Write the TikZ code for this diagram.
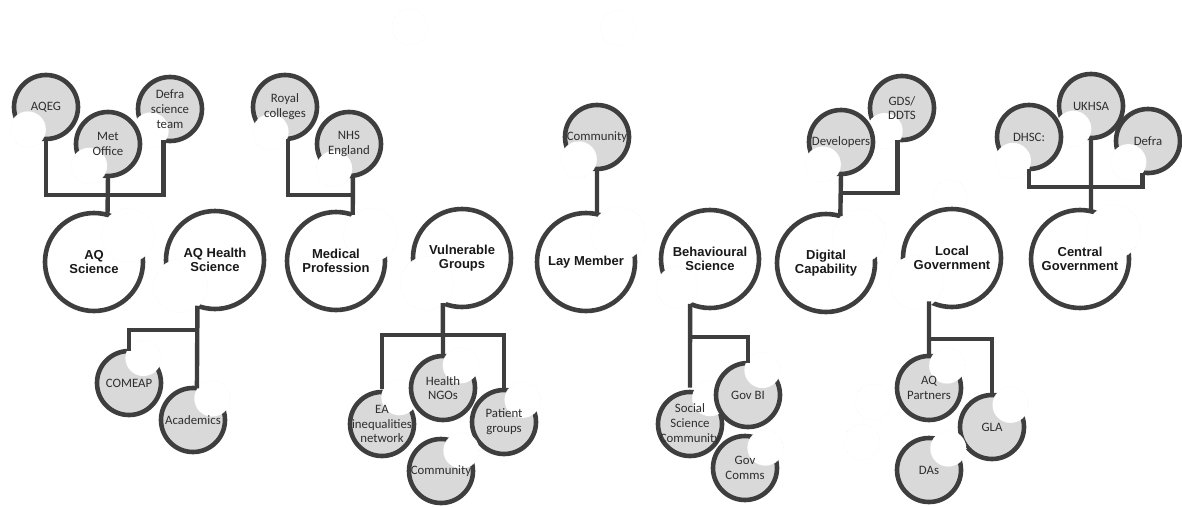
\documentclass[tikz,border=0pt]{standalone}
\usepackage{fontspec}
\setmainfont{Liberation Sans}
\newfontfamily\calib{Carlito}
\usetikzlibrary{calc}
\pgfdeclarelayer{bg}
\pgfsetlayers{bg,main}
\definecolor{ringc}{RGB}{62,62,62}
\definecolor{fillc}{RGB}{217,217,217}
\definecolor{ovlc}{RGB}{238,238,238}
\tikzset{
  bignode/.style={circle, minimum size=98pt, inner sep=0pt, outer sep=0pt, align=center,
    font=\fontsize{13}{14.5}\selectfont\bfseries, text=black!90},
  smallnode/.style={circle, minimum size=64pt, inner sep=0pt, outer sep=0pt, align=center,
    font=\calib\fontsize{12.8}{14.8}\selectfont, text=black!82},
  bigring/.style={draw=ringc, line width=4.6pt, fill=white},
  smallring/.style={draw=ringc, line width=4.6pt, fill=fillc},
  ovl/.style={fill=white, draw=ovlc, dotted, line width=0.5pt},
  conn/.style={draw=ringc, line width=4.4pt, line join=miter},
}
% name, position, text, gap angle, overlay radius
\newcommand\mkbig[5]{%
  \node[bignode] (#1) at (#2) {#3};
  \begin{pgfonlayer}{bg}
    \path[bigring] (#1.center) circle[radius=49pt];
    \path[ovl] ($(#1.center)!0.88!(#1.#4)$) circle[radius=#5pt];
  \end{pgfonlayer}}
\newcommand\mksmall[5]{%
  \node[smallnode] (#1) at (#2) {#3};
  \begin{pgfonlayer}{bg}
    \path[smallring] (#1.center) circle[radius=32pt];
    \path[ovl] ($(#1.center)!0.9!(#1.#4)$) circle[radius=#5pt];
  \end{pgfonlayer}}
\begin{document}
\begin{tikzpicture}[x=1pt,y=-1pt]
\useasboundingbox (0,0) rectangle (1182,506);
% faint stray circles
\begin{pgfonlayer}{bg}
  \path[ovl] (410,27) circle[radius=18pt];
  \path[ovl] (618,28) circle[radius=18pt];
  \path[ovl] (873,402) circle[radius=18pt];
  \path[ovl] (862,442) circle[radius=18pt];
  \path[ovl] (950,197) circle[radius=17pt];
\end{pgfonlayer}
% AQ science group
\mksmall{aqeg}{46,107}{AQEG}{231}{18}
\mksmall{defra}{170,109}{Defra\\science\\team}{228}{18}
\mksmall{met}{108,144}{Met\\Office}{229}{18}
\mkbig{aqs}{94,262}{AQ\\Science}{38}{27}
\mkbig{aqh}{215,260}{AQ Health\\Science}{217}{27}
\mksmall{comeap}{129,383}{COMEAP}{60}{18}
\mksmall{acad}{193,420}{Academics}{48}{18}
% Medical
\mksmall{royal}{285,107}{Royal\\colleges}{240}{18}
\mksmall{nhs}{349,144}{NHS\\England}{239}{18}
\mkbig{med}{336,261}{Medical\\Profession}{37}{27}
% Vulnerable
\mkbig{vul}{462,258}{Vulnerable\\Groups}{216}{27}
\mksmall{ea}{382,424}{EA\\inequalities\\network}{57}{18}
\mksmall{hngo}{443,388}{Health\\NGOs}{52}{18}
\mksmall{pat}{504,422}{Patient\\groups}{50}{18}
\mksmall{commb}{441,471}{Community}{45}{18}
% Lay
\mksmall{commt}{597,137}{Community}{231}{18}
\mkbig{lay}{586,262}{Lay Member}{41}{27}
% Behavioural
\mkbig{beh}{710,259}{Behavioural\\Science}{221}{21}
\mksmall{ssc}{690,424}{Social\\Science\\Community}{52}{18}
\mksmall{govbi}{748,395}{Gov BI}{60}{18}
\mksmall{govc}{745,468}{Gov\\Comms}{45}{18}
% Digital
\mksmall{gds}{902,108}{GDS/\\DDTS}{233}{18}
\mksmall{dev}{841,142}{Developers}{231}{18}
\mkbig{dig}{826,263}{Digital\\Capability}{39}{27}
% Local
\mkbig{loc}{952,258}{Local\\Government}{214}{27}
\mksmall{aqp}{929,388}{AQ\\Partners}{51}{18}
\mksmall{gla}{992,427}{GLA}{50}{18}
\mksmall{das}{929,470}{DAs}{48}{18}
% Central
\mksmall{ukhsa}{1091,106}{UKHSA}{232}{18}
\mksmall{dhsc}{1029,137}{DHSC:}{236}{18}
\mksmall{defr2}{1148,141}{Defra}{227}{18}
\mkbig{cen}{1080,259}{Central\\Government}{39}{27}
% junction coordinates
\coordinate (j1) at (108,195);
\coordinate (j2) at (197,330);
\coordinate (j3) at (353,195);
\coordinate (j4) at (443,335);
\coordinate (j6) at (690,337);
\coordinate (j7) at (841,193);
\coordinate (j8) at (929,339);
\coordinate (j9) at (1091,187);
% connectors
\draw[conn] (aqeg.south) |- (j1) -| (defra.-102);
\draw[conn] (met.south) -- (aqs.74);
\draw[conn] (aqh.-111) -- (acad.83);
\draw[conn] (comeap.north) |- (j2);
\draw[conn] (royal.-85) |- (j3);
\draw[conn] (nhs.-83) -- (med.70);
\draw[conn] (vul.-113) -- (hngo.north);
\draw[conn] (ea.north) |- (j4) -| (pat.north);
\draw[conn] (commt.south) -- (lay.77.5);
\draw[conn] (beh.-114) -- (ssc.north);
\draw[conn] (govbi.north) |- (j6);
\draw[conn] (dev.south) -- (dig.73);
\draw[conn] (gds.-98) |- (j7);
\draw[conn] (loc.-118) -- (aqp.north);
\draw[conn] (gla.north) |- (j8);
\draw[conn] (ukhsa.south) -- (cen.77.5);
\draw[conn] (dhsc.south) |- (j9) -| (defr2.-100);
\end{tikzpicture}
\end{document}
